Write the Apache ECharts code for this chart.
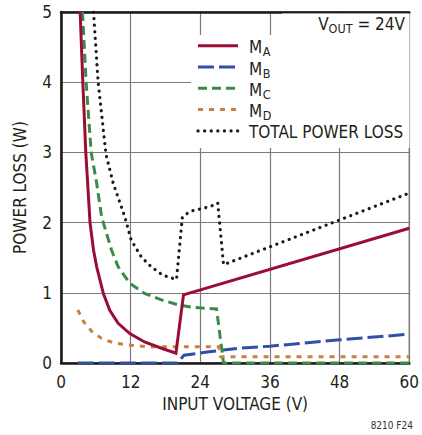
<!DOCTYPE html>
<html>
<head>
<meta charset="utf-8">
<script src="https://cdn.jsdelivr.net/npm/echarts@6/dist/echarts.min.js"></script>
<style>
html,body{margin:0;padding:0;background:#fff;}
#chart{width:422px;height:435px;}
</style>
</head>
<body>
<div id="chart"></div>
<script>
// ---- data (input voltage V, power loss W) ----
const xTicks = [0, 12, 24, 36, 48, 60];
const yTicks = [0, 1, 2, 3, 4, 5];

const maV = [3.3, 3.76, 4.27, 5.0, 5.6, 6.15, 7.3, 8.4, 9.85, 11.85, 14.4, 17.3, 19.8, 21.1, 60];
const maW = [5.0, 4.0, 3.0, 2.0, 1.61, 1.37, 0.99, 0.75, 0.565, 0.42, 0.30, 0.21, 0.14, 0.97, 1.92];

const mbV = [2.9, 20, 21.2, 25.5, 30.6, 36, 48, 60];
const mbW = [0, 0, 0.11, 0.16, 0.21, 0.24, 0.33, 0.41];

const mcV = [3.7, 4.33, 5.2, 6.15, 7.0, 8.7, 9.85, 11.85, 14.4, 17.3, 20.1, 23, 26.8, 28, 60];
const mcW = [5.0, 4.0, 3.0, 2.56, 2.08, 1.61, 1.37, 1.135, 0.99, 0.90, 0.83, 0.79, 0.77, 0, 0];

const mdV = [2.9, 3.9, 5.3, 7.0, 9.0, 11.6, 15.2, 27.2, 27.5, 60];
const mdW = [0.755, 0.59, 0.45, 0.35, 0.29, 0.256, 0.23, 0.23, 0.09, 0.09];

const totV = [5.6, 6.4, 7.75, 9.0, 11.0, 12.1, 13.85, 15.55, 17.55, 19.9, 20.9, 21.5, 22.7, 23.8, 24.8, 26, 27, 28, 60];
const totW = [5.0, 4.0, 2.97, 2.56, 2.08, 1.75, 1.51, 1.37, 1.25, 1.19, 2.07, 2.12, 2.17, 2.19, 2.21, 2.24, 2.28, 1.40, 2.42];

const legendNames = ['M', 'M', 'M', 'M', 'TOTAL POWER LOSS'];
const legendSubs = ['A', 'B', 'C', 'D', ''];

// ---- styles ----
const FONT = "'DejaVu Sans Condensed', 'Liberation Sans Narrow', sans-serif";
const FS = 17, FSUB = 12.5;
const TXT = '#231f20';
const colors = ['#9b0e33', '#3050a8', '#3a8a48', '#c8813e', '#1a1a1a'];
const dashes = ['solid', [16, 5], [9, 5], [5, 6], [0.1, 6.5]];

const mctx = document.createElement('canvas').getContext('2d');
function tw(text, size) { mctx.font = size + 'px ' + FONT; return mctx.measureText(text).width; }

function pairs(xs, ys) { return xs.map((x, i) => [x, ys[i]]); }
const seriesData = [pairs(maV, maW), pairs(mbV, mbW), pairs(mcV, mcW), pairs(mdV, mdW), pairs(totV, totW)];

const chart = echarts.init(document.getElementById('chart'), null, {renderer: 'svg'});

const series = seriesData.map((d, i) => ({
  type: 'line',
  data: d,
  showSymbol: false,
  symbol: 'none',
  clip: true,
  z: 3 + (i === 0 ? 2 : 0),
  lineStyle: {color: colors[i], width: i === 4 ? 3.2 : 3, type: dashes[i], cap: i === 4 ? 'round' : 'butt', join: 'miter'},
  animation: false
}));

const gfx = [];
// mask grid lines behind legend / label
gfx.push({type: 'rect', shape: {x: 191, y: 35, width: 218.5, height: 113}, style: {fill: '#fff'}, z: 50});
gfx.push({type: 'rect', shape: {x: 282, y: 13.5, width: 127.5, height: 22}, style: {fill: '#fff'}, z: 50});
const legY0 = 45.7, legStep = 21.3;
const wM = tw('M', FS);
for (let i = 0; i < 5; i++) {
  const y = legY0 + i * legStep;
  gfx.push({type: 'line', shape: {x1: 198, y1: y, x2: 238, y2: y},
    style: {stroke: colors[i], lineWidth: i === 4 ? 3.2 : 3, lineDash: dashes[i] === 'solid' ? null : dashes[i], lineCap: i === 4 ? 'round' : 'butt'}, z: 60});
  gfx.push({type: 'text', x: 249, y: y + 1.5, style: {text: legendNames[i], font: FS + 'px ' + FONT, fill: TXT, verticalAlign: 'middle', align: 'left'}, z: 60});
  if (legendSubs[i]) {
    gfx.push({type: 'text', x: 249 + wM + 0.5, y: y + 6, style: {text: legendSubs[i], font: FSUB + 'px ' + FONT, fill: TXT, verticalAlign: 'middle', align: 'left'}, z: 60});
  }
}
// V_OUT label
const wV = tw('V', FS), wOut = tw('OUT', FSUB), wRest = tw(' = 24V', FS);
const vx0 = 405 - (wV + wOut + wRest);
gfx.push({type: 'text', x: vx0, y: 24, style: {text: 'V', font: FS + 'px ' + FONT, fill: TXT, verticalAlign: 'middle', align: 'left'}, z: 60});
gfx.push({type: 'text', x: vx0 + wV, y: 28, style: {text: 'OUT', font: FSUB + 'px ' + FONT, fill: TXT, verticalAlign: 'middle', align: 'left'}, z: 60});
gfx.push({type: 'text', x: vx0 + wV + wOut, y: 24, style: {text: ' = 24V', font: FS + 'px ' + FONT, fill: TXT, verticalAlign: 'middle', align: 'left'}, z: 60});
// figure id
gfx.push({type: 'text', x: 413, y: 425, style: {text: '8210 F24', font: '10px ' + FONT, fill: '#333', verticalAlign: 'middle', align: 'right'}, z: 60});

const option = {
  animation: false,
  backgroundColor: '#fff',
  textStyle: {fontFamily: FONT},
  grid: {left: 61, right: 10, top: 12, bottom: 72, show: true, borderColor: '#333', borderWidth: 1, containLabel: false},
  xAxis: [{
    type: 'value', min: xTicks[0], max: xTicks[xTicks.length - 1], interval: 12,
    name: 'INPUT VOLTAGE (V)', nameLocation: 'middle', nameGap: 32,
    nameTextStyle: {fontSize: FS, color: TXT, fontFamily: FONT},
    axisLine: {show: true, onZero: false, lineStyle: {color: '#1a1a1a', width: 2.5}},
    axisTick: {show: false},
    axisLabel: {fontSize: FS, color: TXT, fontFamily: FONT, margin: 10, showMaxLabel: true, showMinLabel: true},
    splitLine: {show: true, lineStyle: {color: '#7a7a7a', width: 1.2}}
  }, {
    type: 'value', position: 'top', min: 0, max: 60,
    axisLine: {show: true, onZero: false, lineStyle: {color: '#1a1a1a', width: 2.5}},
    axisTick: {show: false}, axisLabel: {show: false}, splitLine: {show: false}
  }],
  yAxis: {
    type: 'value', min: yTicks[0], max: yTicks[yTicks.length - 1], interval: 1,
    name: 'POWER LOSS (W)', nameLocation: 'middle', nameGap: 33,
    nameTextStyle: {fontSize: FS, color: TXT, fontFamily: FONT},
    axisLine: {show: true, onZero: false, lineStyle: {color: '#1a1a1a', width: 2.5}},
    axisTick: {show: false},
    axisLabel: {fontSize: FS, color: TXT, fontFamily: FONT, margin: 9},
    splitLine: {show: true, lineStyle: {color: '#7a7a7a', width: 1.2}}
  },
  series: series,
  graphic: {elements: gfx}
};
chart.setOption(option);
</script>
</body>
</html>
